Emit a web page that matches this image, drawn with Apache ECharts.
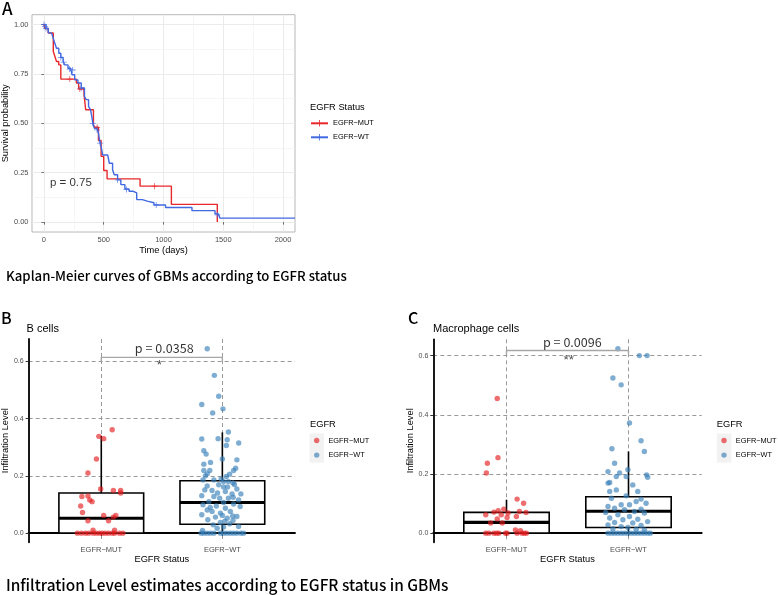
<!DOCTYPE html>
<html><head><meta charset="utf-8">
<script src="https://cdn.jsdelivr.net/npm/echarts@6/dist/echarts.min.js"></script>
<style>html,body{margin:0;padding:0;background:#fff}#c{width:778px;height:595px}</style>
</head><body><div id="c"></div>
<script>
// ---------- Panel A: Kaplan-Meier data ----------
const kmMutTime = [0, 8, 36, 78, 91, 105, 124, 141, 271, 290, 335, 349, 414, 425, 456, 478, 500, 528, 804, 1066, 1450];
const kmMutSurv = [1.0, 0.98, 0.957, 0.864, 0.84, 0.813, 0.796, 0.724, 0.704, 0.674, 0.648, 0.569, 0.493, 0.48, 0.413, 0.333, 0.261, 0.219, 0.182, 0.09, 0.0];
const kmWtTime = [0, 17, 36, 63, 78, 91, 105, 124, 141, 160, 174, 201, 223, 235, 257, 284, 312, 339, 353, 373, 389, 400, 409, 422, 444, 456, 464, 478, 491, 533, 547, 574, 588, 616, 643, 677, 712, 748, 776, 823, 864, 920, 1017, 1238, 1431, 1459, 1472, 2100];
const kmWtSurv = [1.0, 0.98, 0.958, 0.95, 0.93, 0.905, 0.88, 0.855, 0.833, 0.813, 0.796, 0.779, 0.771, 0.746, 0.72, 0.704, 0.679, 0.636, 0.62, 0.586, 0.569, 0.535, 0.5, 0.475, 0.467, 0.45, 0.416, 0.382, 0.34, 0.332, 0.298, 0.265, 0.24, 0.214, 0.19, 0.168, 0.156, 0.148, 0.114, 0.106, 0.098, 0.087, 0.074, 0.058, 0.042, 0.037, 0.02, 0.02];
const kmMutCensorTime = [216, 300, 445, 925];
const kmMutCensorSurv = [0.724, 0.674, 0.48, 0.182];
const kmWtCensorTime = [0, 10, 17, 141, 165, 215, 240, 312, 409, 444, 470, 616, 690, 939, 1450];
const kmWtCensorSurv = [1.0, 0.99, 0.98, 0.833, 0.81, 0.775, 0.77, 0.679, 0.5, 0.467, 0.4, 0.214, 0.165, 0.087, 0.037];
const kmXTicks = [0, 500, 1000, 1500, 2000];
const kmXMinor = [250, 750, 1250, 1750];
const kmYTicks = [0, 0.25, 0.5, 0.75, 1];
const kmYMinor = [0.125, 0.375, 0.625, 0.875];
const kmPText = 'p = 0.75';

// ---------- Panels B & C ----------
const groups = ['EGFR\u2212MUT', 'EGFR\u2212WT'];
const infTicks = [0, 0.2, 0.4, 0.6];

const bMutVals = [0.361,0.338,0.33,0.259,0.21,0.154,0.149,0.149,0.14,0.128,0.13,0.116,0.11,0.095,0.072,0.062,0.056,0.062,0.043,0.043,0.01,0.01,
  0,0,0,0,0,0,0,0,0,0,0,0,0,0];
const bMutJitter = [0.09,-0.02,0.02,-0.04,-0.11,-0.005,0.10,0.16,0.16,-0.16,-0.11,-0.095,-0.076,-0.17,-0.155,0.02,0.10,0.12,-0.11,0.06,-0.068,0.11,
  -0.197,-0.164,-0.131,-0.104,-0.068,-0.041,-0.014,0.008,0.033,0.06,0.09,0.11,0.15,0.178];
const bWtVals = [0.644,0.551,0.478,0.449,0.434,0.42,0.353,0.329,0.33,0.326,0.315,0.306,0.288,0.276,0.259,0.256,0.241,0.247,0.227,0.219,0.219,0.219,0.207,0.206,0.198,0.189,0.186,0.186,0.18,0.18,0.175,0.169,0.165,0.161,0.161,0.154,0.151,0.149,0.145,0.137,0.137,0.131,0.128,0.122,0.122,0.116,0.11,0.107,0.102,0.099,0.095,0.093,0.087,0.081,0.076,0.076,0.07,0.064,0.058,0.056,0.052,0.047,0.044,0.037,0.033,0.029,0.023,0.021,0.017,0.009,
  0.2,0.17,0.14,0.125,0.09,0.062,0.06,0.042,
  0,0,0,0,0,0,0,0,0,0,0,0,0];
const bWtJitter = [-0.125,-0.066,-0.03,-0.17,0.005,-0.08,0.05,-0.17,-0.035,0.04,0.135,0.033,-0.153,-0.134,0,0.12,-0.153,-0.098,0.11,-0.153,-0.104,0.093,-0.125,0.06,0.033,-0.01,-0.16,-0.07,0.01,0.05,0.088,-0.03,-0.125,0.01,0.043,0.12,-0.145,-0.085,0.025,0.153,0.08,-0.17,-0.07,-0.022,0.05,0.134,-0.112,0.01,0.093,-0.16,-0.05,0.147,0.025,-0.125,-0.085,0.066,-0.016,-0.17,0.12,-0.057,0.04,-0.12,0.088,-0.016,0.06,-0.076,0.134,0.01,-0.043,-0.164,
  -0.14,0.1,-0.04,0.09,-0.1,0.0,0.085,0.02,
  -0.175,-0.153,-0.125,-0.098,-0.07,-0.016,0.01,0.038,0.066,0.093,0.12,0.153,0.175];
const bBoxMut = [0, 0, 0.052, 0.14, 0.34];
const bBoxWt = [0, 0.031, 0.107, 0.183, 0.352];
const bPText = 'p = 0.0358';
const bSig = '*';

const cMutVals = [0.455,0.255,0.236,0.203,0.115,0.101,0.081,0.076,0.071,0.068,0.073,0.07,0.062,0.062,0.053,0.056,0.048,0.034,0.034,0.011,0.008,
  0,0,0,0,0,0,0,0,0,0,0];
const cMutJitter = [-0.076,-0.07,-0.157,-0.165,0.087,0.14,-0.022,-0.068,-0.103,0.013,0.106,0.16,-0.17,-0.043,0.005,0.081,-0.076,-0.13,-0.035,0.073,0.114,
  -0.17,-0.144,-0.103,-0.081,-0.063,-0.008,0.005,0.087,0.127,0.146,0.163];
const cWtVals = [0.623,0.6,0.6,0.524,0.501,0.372,0.312,0.285,0.276,0.236,0.208,0.203,0.197,0.189,0.191,0.191,0.214,0.171,0.169,0.163,0.146,0.141,0.141,0.126,0.118,0.115,0.101,0.107,0.096,0.096,0.09,0.084,0.081,0.079,0.073,0.07,0.068,0.062,0.056,0.051,0.047,0.045,0.039,0.036,0.034,0.028,0.026,0.022,0.019,0.015,0.013,0.011,
  0,0,0,0,0,0,0,0,0,0,0,0,0,0];
const cWtJitter = [-0.087,0.089,0.152,-0.128,-0.06,0.008,0.103,-0.136,0.13,-0.114,-0.168,-0.073,0.149,0.157,-0.1,-0.019,-0.005,-0.154,-0.168,0.035,-0.1,-0.154,0.076,-0.019,-0.14,0.103,0.144,0.063,-0.06,0.008,-0.168,-0.114,0.103,-0.033,0.049,-0.187,0.13,-0.087,0.008,-0.154,0.076,-0.046,0.157,-0.114,0.035,-0.168,0.103,-0.06,-0.005,-0.128,0.063,0.13,
  -0.168,-0.14,-0.114,-0.087,-0.06,-0.033,-0.005,0.022,0.049,0.076,0.103,0.13,0.157,0.179];
const cBoxMut = [0, 0, 0.036, 0.07, 0.113];
const cBoxWt = [0, 0.019, 0.074, 0.123, 0.276];
const cPText = 'p = 0.0096';
const cSig = '**';

// ---------- styles ----------
const RED = '#E8282B', BLUE = '#4169E1';
const PT_RED = 'rgba(228,26,28,0.8)', PT_BLUE = 'rgba(55,126,184,0.8)';
const GG = 'Liberation Sans, Arial, sans-serif';
const MY = 'Noto Sans CJK SC, Noto Sans, sans-serif';
const PLUS = 'path://M-1,-0.13 L1,-0.13 L1,0.13 L-1,0.13 Z M-0.13,-1 L0.13,-1 L0.13,1 L-0.13,1 Z';
const PT_SIZE = 5.4;

const zip = (a, b) => a.map((v, i) => [v, b[i]]);
const jit = (vals, jit, g) => vals.map((v, i) => [g + jit[i], v]);

function mkTitle(text, left, cy, size, family, weight) {
  const lh = Math.round(size * 1.2);
  return { text, left, top: cy - lh / 2, padding: 0,
    textStyle: { fontSize: size, fontFamily: family, fontWeight: weight || 'normal', color: '#000', lineHeight: lh } };
}

function renderBox(params, api) {
  const x = api.value(0), hw = 0.35;
  const lo = api.coord([x - hw, api.value(2)]);
  const hi = api.coord([x + hw, api.value(4)]);
  const med = api.coord([x, api.value(3)]);
  const top = api.coord([x, api.value(5)]);
  const bot = api.coord([x, api.value(1)]);
  const st = { stroke: '#000', lineWidth: 1.6 };
  return { type: 'group', children: [
    { type: 'line', shape: { x1: top[0], y1: top[1], x2: top[0], y2: hi[1] }, style: st },
    { type: 'line', shape: { x1: bot[0], y1: lo[1], x2: bot[0], y2: bot[1] }, style: st },
    { type: 'rect', shape: { x: lo[0], y: hi[1], width: hi[0] - lo[0], height: lo[1] - hi[1] }, style: { fill: '#fff', stroke: '#000', lineWidth: 1.6 } },
    { type: 'line', shape: { x1: lo[0], y1: med[1], x2: hi[0], y2: med[1] }, style: { stroke: '#000', lineWidth: 3.2 } }
  ]};
}

function infXAxis(gi) {
  return { gridIndex: gi, type: 'value', min: 0.4, max: 2.6,
    axisLine: { show: true, lineStyle: { color: '#000', width: 1.8 } },
    axisTick: { show: true, customValues: [1, 2], length: 3, lineStyle: { color: '#333', width: 1 } },
    axisLabel: { customValues: [1, 2], formatter: v => groups[Math.round(v) - 1], fontSize: 7.5, fontFamily: GG, color: '#4D4D4D', margin: 4 },
    splitLine: { show: true, lineStyle: { color: '#9A9A9A', width: 1, type: [4, 3] } },
    name: 'EGFR Status', nameLocation: 'middle', nameGap: 13,
    nameTextStyle: { fontSize: 9.3, fontFamily: GG, color: '#000', verticalAlign: 'top' }
  };
}
function infYAxis(gi, min, max, gap) {
  return { gridIndex: gi, type: 'value', min, max,
    axisLine: { show: true, lineStyle: { color: '#000', width: 1.8 } },
    axisTick: { show: true, customValues: infTicks, length: 3, lineStyle: { color: '#333', width: 1 } },
    axisLabel: { customValues: infTicks, formatter: v => v.toFixed(1), fontSize: 7, fontFamily: GG, color: '#4D4D4D', margin: 5 },
    splitLine: { show: true, lineStyle: { color: '#9A9A9A', width: 1, type: [4, 3] } },
    name: 'Infiltration Level', nameLocation: 'middle', nameRotate: 90, nameGap: gap,
    nameTextStyle: { fontSize: 9.3, fontFamily: GG, color: '#000' }
  };
}
function textSeries(xi, yi, pos, text, size, family, color, align) {
  return { type: 'scatter', xAxisIndex: xi, yAxisIndex: yi, data: [pos], symbolSize: 1, silent: true, z: 6,
    itemStyle: { color: 'rgba(0,0,0,0)' },
    label: { show: true, position: 'inside', formatter: text, fontSize: size, fontFamily: family, color: color,
      align: align || 'center', verticalAlign: 'middle' } };
}
function bracket(xi, yi, yTop, yTip) {
  return { type: 'line', xAxisIndex: xi, yAxisIndex: yi, data: [[1, yTip], [1, yTop], [2, yTop], [2, yTip]],
    symbol: 'none', silent: true, z: 5, lineStyle: { color: '#A6A6A6', width: 1.4 } };
}

const chart = echarts.init(document.getElementById('c'), null, { renderer: 'canvas' });
const option = {
  animation: false,
  backgroundColor: '#fff',
  title: [
    mkTitle('A', 2, 8.5, 17, MY, 500),
    mkTitle('Kaplan-Meier curves of GBMs according to EGFR status', 6, 276, 13.2, MY, 500),
    mkTitle('B', 1, 318, 16, MY, 500),
    mkTitle('B cells', 26.5, 329, 11, GG),
    mkTitle('C', 408, 318, 16, MY, 500),
    mkTitle('Macrophage cells', 433, 329, 11, GG),
    mkTitle('Infiltration Level estimates according to EGFR status in GBMs', 6, 585, 15.4, MY, 500),
    mkTitle('EGFR Status', 310, 107.5, 9.3, GG),
    mkTitle('EGFR', 310, 424, 9.3, GG),
    mkTitle('EGFR', 716.7, 424, 9.3, GG)
  ],
  graphic: [
    { type: 'rect', shape: { x: 309.5, y: 433.4, width: 14.5, height: 14.6 }, style: { fill: '#F2F2F2' }, silent: true, z: 0 },
    { type: 'rect', shape: { x: 309.5, y: 448, width: 14.5, height: 14.6 }, style: { fill: '#F2F2F2' }, silent: true, z: 0 },
    { type: 'rect', shape: { x: 716.8, y: 433.4, width: 14.5, height: 14.6 }, style: { fill: '#F2F2F2' }, silent: true, z: 0 },
    { type: 'rect', shape: { x: 716.8, y: 448, width: 14.5, height: 14.6 }, style: { fill: '#F2F2F2' }, silent: true, z: 0 }
  ],
  legend: [
    { data: ['kmMut', 'kmWt'], formatter: n => n === 'kmMut' ? groups[0] : groups[1], orient: 'vertical', left: 310, top: 118.3,
      padding: 0, itemWidth: 17, itemHeight: 8, itemGap: 4, selectedMode: false,
      textStyle: { fontSize: 7.4, fontFamily: GG, color: '#000', lineHeight: 10 } },
    { data: groups, orient: 'vertical', left: 314, top: 435.5, icon: 'circle', padding: 0, itemWidth: PT_SIZE, itemHeight: PT_SIZE, itemGap: 4.6, selectedMode: false,
      textStyle: { fontSize: 7.4, fontFamily: GG, color: '#000', lineHeight: 10, padding: [0, 0, 0, 4] } },
    { data: groups, orient: 'vertical', left: 721.3, top: 435.5, icon: 'circle', padding: 0, itemWidth: PT_SIZE, itemHeight: PT_SIZE, itemGap: 4.6, selectedMode: false,
      textStyle: { fontSize: 7.4, fontFamily: GG, color: '#000', lineHeight: 10, padding: [0, 0, 0, 4] } }
  ],
  grid: [
    { left: 31, top: 14.7, width: 264, height: 217.3, show: true, borderColor: '#A6A6A6', borderWidth: 0.8, backgroundColor: '#fff' },
    { left: 26, top: 339, width: 269, height: 203.3 },
    { left: 433.3, top: 339.3, width: 268.4, height: 203 }
  ],
  xAxis: [
    { gridIndex: 0, type: 'value', min: -100, max: 2100,
      axisLine: { show: false },
      axisTick: { show: true, customValues: kmXTicks, length: 2.5, lineStyle: { color: '#4D4D4D', width: 0.8 } },
      axisLabel: { customValues: kmXTicks, formatter: v => String(v), fontSize: 7.5, fontFamily: GG, color: '#4D4D4D', margin: 3.5 },
      splitLine: { show: true, lineStyle: { color: '#EBEBEB', width: 1 } },
      name: 'Time (days)', nameLocation: 'middle', nameGap: 13.5,
      nameTextStyle: { fontSize: 9.3, fontFamily: GG, color: '#000', verticalAlign: 'top' } },
    { gridIndex: 0, type: 'value', min: -100, max: 2100,
      axisLine: { show: false }, axisTick: { show: false, customValues: kmXMinor }, axisLabel: { show: false, customValues: kmXMinor },
      splitLine: { show: true, lineStyle: { color: '#F0F0F0', width: 0.6 } } },
    infXAxis(1),
    infXAxis(2)
  ],
  yAxis: [
    { gridIndex: 0, type: 'value', min: -0.05, max: 1.05,
      axisLine: { show: false },
      axisTick: { show: true, customValues: kmYTicks, length: 2.5, lineStyle: { color: '#4D4D4D', width: 0.8 } },
      axisLabel: { customValues: kmYTicks, formatter: v => v.toFixed(2), fontSize: 7.5, fontFamily: GG, color: '#4D4D4D', margin: 3.5 },
      splitLine: { show: true, lineStyle: { color: '#EBEBEB', width: 1 } },
      name: 'Survival probability', nameLocation: 'middle', nameRotate: 90, nameGap: 20,
      nameTextStyle: { fontSize: 9.3, fontFamily: GG, color: '#000' } },
    { gridIndex: 0, type: 'value', min: -0.05, max: 1.05,
      axisLine: { show: false }, axisTick: { show: false, customValues: kmYMinor }, axisLabel: { show: false, customValues: kmYMinor },
      splitLine: { show: true, lineStyle: { color: '#F0F0F0', width: 0.6 } } },
    infYAxis(1, -0.032, 0.678, 16),
    infYAxis(2, -0.031, 0.655, 17)
  ],
  series: [
    // Panel A
    { name: 'kmMut', type: 'line', xAxisIndex: 0, yAxisIndex: 0, step: 'end', data: zip(kmMutTime, kmMutSurv),
      symbol: PLUS, symbolSize: 6, showSymbol: false, z: 3, lineStyle: { color: RED, width: 1.4 }, itemStyle: { color: RED } },
    { name: 'kmWt', type: 'line', xAxisIndex: 0, yAxisIndex: 0, step: 'end', data: zip(kmWtTime, kmWtSurv),
      symbol: PLUS, symbolSize: 6, showSymbol: false, z: 3, lineStyle: { color: BLUE, width: 1.4 }, itemStyle: { color: BLUE } },
    { name: 'kmMutCensor', type: 'scatter', xAxisIndex: 0, yAxisIndex: 0, data: zip(kmMutCensorTime, kmMutCensorSurv),
      symbol: PLUS, symbolSize: 6, z: 4, itemStyle: { color: RED } },
    { name: 'kmWtCensor', type: 'scatter', xAxisIndex: 0, yAxisIndex: 0, data: zip(kmWtCensorTime, kmWtCensorSurv),
      symbol: PLUS, symbolSize: 6, z: 4, itemStyle: { color: BLUE } },
    textSeries(0, 0, [50, 0.2], kmPText, 11.5, GG, '#000', 'left'),
    // Panel B
    { type: 'custom', xAxisIndex: 2, yAxisIndex: 2, renderItem: renderBox, z: 2, silent: true,
      data: [[1].concat(bBoxMut), [2].concat(bBoxWt)] },
    { name: groups[0], type: 'scatter', xAxisIndex: 2, yAxisIndex: 2, data: jit(bMutVals, bMutJitter, 1), symbolSize: PT_SIZE, z: 3, itemStyle: { color: PT_RED } },
    { name: groups[1], type: 'scatter', xAxisIndex: 2, yAxisIndex: 2, data: jit(bWtVals, bWtJitter, 2), symbolSize: PT_SIZE, z: 3, itemStyle: { color: PT_BLUE } },
    bracket(2, 2, 0.614, 0.6),
    textSeries(2, 2, [1.52, 0.646], bPText, 12.6, MY, '#000'),
    textSeries(2, 2, [1.48, 0.585], bSig, 13.5, GG, '#222'),
    // Panel C
    { type: 'custom', xAxisIndex: 3, yAxisIndex: 3, renderItem: renderBox, z: 2, silent: true,
      data: [[1].concat(cBoxMut), [2].concat(cBoxWt)] },
    { name: groups[0], type: 'scatter', xAxisIndex: 3, yAxisIndex: 3, data: jit(cMutVals, cMutJitter, 1), symbolSize: PT_SIZE, z: 3, itemStyle: { color: PT_RED } },
    { name: groups[1], type: 'scatter', xAxisIndex: 3, yAxisIndex: 3, data: jit(cWtVals, cWtJitter, 2), symbolSize: PT_SIZE, z: 3, itemStyle: { color: PT_BLUE } },
    bracket(3, 3, 0.617, 0.603),
    textSeries(3, 3, [1.51, 0.583], cSig, 13.5, GG, '#222')
    ,textSeries(3, 3, [1.54, 0.645], cPText, 12.6, MY, '#000')
  ]
};
chart.setOption(option);
</script>
</body></html>
